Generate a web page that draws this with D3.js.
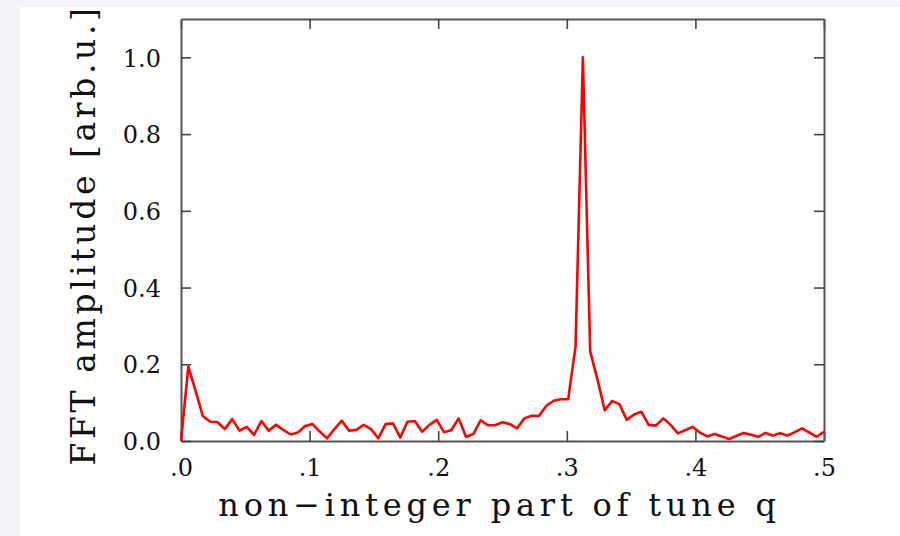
<!DOCTYPE html>
<html>
<head>
<meta charset="utf-8">
<script src="https://cdn.jsdelivr.net/npm/d3@7"></script>
<style>
  html, body { margin: 0; padding: 0; background: #f3f4f8; }
  #chart { position: absolute; left: 20px; top: 7px; width: 880px; height: 529px; background: #fff; }
  svg { position: absolute; left: 0; top: 0; overflow: visible; }
  text { font-family: "DejaVu Serif", serif; fill: #111; }
</style>
</head>
<body>
<div id="chart"></div>
<script>
// Tune values of the FFT bins (non-integer part of q).
var tune = [
  0, .0057, .0114, .0170, .0227, .0284, .0341, .0398, .0455, .0511,
  .0568, .0625, .0682, .0739, .0795, .0852, .0909, .0966, .1023, .1080,
  .1136, .1193, .1250, .1307, .1364, .1420, .1477, .1534, .1591, .1648,
  .1705, .1761, .1818, .1875, .1932, .1989, .2045, .2102, .2159, .2216,
  .2273, .2330, .2386, .2443, .2500, .2557, .2614, .2670, .2727, .2784,
  .2841, .2898, .2955, .3011, .3068, .3125, .3182, .3239, .3295, .3352,
  .3409, .3466, .3523, .3580, .3636, .3693, .3750, .3807, .3864, .3920,
  .3977, .4034, .4091, .4148, .4205, .4261, .4318, .4375, .4432, .4489,
  .4545, .4602, .4659, .4716, .4773, .4830, .4886, .4943, .5000
];

// FFT amplitude, arbitrary units.
var amplitude = [
  0, 0.194, 0.13, 0.065, 0.05, 0.049, 0.031, 0.057, 0.027, 0.037,
  0.016, 0.052, 0.027, 0.042, 0.029, 0.017, 0.022, 0.039, 0.044, 0.024,
  0.007, 0.031, 0.053, 0.027, 0.029, 0.042, 0.031, 0.007, 0.044, 0.046,
  0.009, 0.05, 0.052, 0.024, 0.042, 0.055, 0.023, 0.028, 0.059, 0.011,
  0.018, 0.054, 0.041, 0.041, 0.049, 0.044, 0.033, 0.059, 0.066, 0.065,
  0.092, 0.105, 0.109, 0.109, 0.246, 1.0, 0.233, 0.16, 0.08, 0.104,
  0.096, 0.055, 0.069, 0.076, 0.042, 0.04, 0.059, 0.042, 0.02, 0.028,
  0.037, 0.022, 0.012, 0.018, 0.012, 0.005, 0.013, 0.021, 0.016, 0.011,
  0.021, 0.014, 0.02, 0.014, 0.023, 0.033, 0.022, 0.011, 0.024
];

var xTicks = [0, .1, .2, .3, .4, .5];
var xTickLabels = [".0", ".1", ".2", ".3", ".4", ".5"];
var yTicks = [0, 0.2, 0.4, 0.6, 0.8, 1.0];
var yTickLabels = ["0.0", "0.2", "0.4", "0.6", "0.8", "1.0"];

var xTitle = "non\u2212integer part of tune q";
var yTitle = "FFT amplitude [arb.u.]";

// Outer box is the white panel; margins put the frame where the original is.
var box = { width: 880, height: 529 };
var margin = { left: 161, right: 76, top: 12, bottom: 95 };
var width = box.width - margin.left - margin.right;
var height = box.height - margin.top - margin.bottom;
var tickLen = 10;

var svg = d3.select("#chart").append("svg")
  .attr("width", box.width)
  .attr("height", box.height);

var g = svg.append("g")
  .attr("transform", "translate(" + margin.left + "," + margin.top + ")");

var x = d3.scaleLinear().domain([0, 0.5]).range([0, width]);
var y = d3.scaleLinear().domain([0, 1.1]).range([height, 0]);

// Inward ticks on all four sides, PGPLOT style.
function frameAxis(axis, ticks, labels) {
  return axis.tickValues(ticks)
    .tickSizeInner(-tickLen)
    .tickSizeOuter(0)
    .tickFormat(function (d, i) { return labels ? labels[i] : ""; });
}

var axes = [
  { a: frameAxis(d3.axisBottom(x), xTicks, xTickLabels), t: "translate(0," + height + ")" },
  { a: frameAxis(d3.axisTop(x), xTicks), t: "translate(0,0)" },
  { a: frameAxis(d3.axisLeft(y), yTicks, yTickLabels), t: "translate(0,0)" },
  { a: frameAxis(d3.axisRight(y), yTicks), t: "translate(" + width + ",0)" }
];

axes.forEach(function (ax, i) {
  var sel = g.append("g").attr("transform", ax.t).call(ax.a);
  sel.select(".domain").attr("stroke", "#555").attr("stroke-width", 2);
  sel.selectAll(".tick line").attr("stroke", "#444").attr("stroke-width", 1.6);
  sel.selectAll(".tick text")
    .style("font-family", "'DejaVu Serif', serif")
    .style("font-size", "24px")
    .attr("fill", "#111");
  if (i === 0) sel.selectAll(".tick text").attr("y", 18).attr("dy", "0.71em");
  if (i === 2) sel.selectAll(".tick text").attr("x", -20).attr("dy", "0.36em");
});

// The spectrum line.
var line = d3.line()
  .x(function (d, i) { return x(tune[i]); })
  .y(function (d) { return y(d); });

g.append("path")
  .datum(amplitude)
  .attr("fill", "none")
  .attr("stroke", "#ff0000")
  .attr("stroke-width", 2.6)
  .attr("stroke-linejoin", "round")
  .attr("d", line);

// Axis titles.
g.append("text")
  .attr("x", width / 2 - 3)
  .attr("y", height + 75)
  .attr("text-anchor", "middle")
  .style("font-size", "32px")
  .style("letter-spacing", "4.8px")
  .text(xTitle);

g.append("text")
  .attr("transform", "translate(" + (-86) + "," + (216) + ") rotate(-90)")
  .attr("text-anchor", "middle")
  .style("font-size", "33px")
  .style("letter-spacing", "3.6px")
  .text(yTitle);
</script>
</body>
</html>
